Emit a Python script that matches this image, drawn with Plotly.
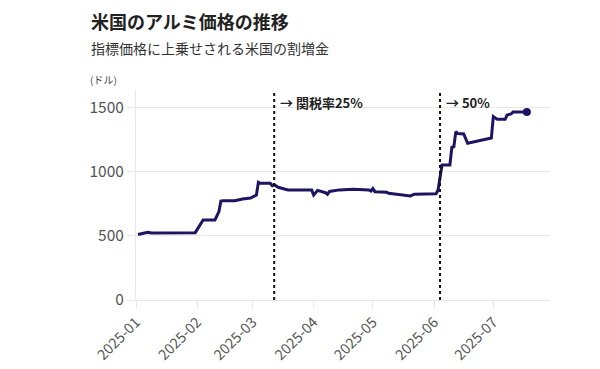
import plotly.graph_objects as go

dates = [
    "2025-01-02", "2025-01-07", "2025-01-09", "2025-01-31", "2025-02-04", "2025-02-10",
    "2025-02-12", "2025-02-13", "2025-02-14", "2025-02-20", "2025-02-24", "2025-02-28",
    "2025-03-03", "2025-03-04", "2025-03-05", "2025-03-10", "2025-03-11", "2025-03-12",
    "2025-03-14", "2025-03-17", "2025-03-19", "2025-03-31", "2025-04-01", "2025-04-03",
    "2025-04-07", "2025-04-08", "2025-04-09", "2025-04-14", "2025-04-21", "2025-04-29",
    "2025-04-30", "2025-05-01", "2025-05-02", "2025-05-08", "2025-05-09", "2025-05-14",
    "2025-05-20", "2025-05-22", "2025-06-02", "2025-06-03", "2025-06-04", "2025-06-05",
    "2025-06-09", "2025-06-10", "2025-06-11", "2025-06-12", "2025-06-13", "2025-06-16",
    "2025-06-18", "2025-06-30", "2025-07-01", "2025-07-03", "2025-07-07", "2025-07-08",
    "2025-07-10", "2025-07-11", "2025-07-18",
]
prices = [
    512, 528, 524, 526, 625, 625,
    690, 773, 775, 775, 789, 796,
    820, 919, 911, 911, 893, 900,
    880, 865, 860, 860, 820, 856,
    838, 826, 848, 860, 865, 860,
    851, 870, 846, 841, 833, 824,
    813, 826, 830, 859, 950, 1055,
    1055, 1193, 1196, 1315, 1300, 1297,
    1224, 1265, 1432, 1411, 1411, 1445,
    1453, 1469, 1469,
]

tariff_dates = ["2025-03-12", "2025-06-04"]
tariff_labels = ["→ 関税率25%", "→ 50%"]

y_ticks = [0, 500, 1000, 1500]
x_ticks = ["2025-01-01", "2025-02-01", "2025-03-01", "2025-04-01",
           "2025-05-01", "2025-06-01", "2025-07-01"]
x_tick_labels = ["2025-01", "2025-02", "2025-03", "2025-04", "2025-05", "2025-06", "2025-07"]

FONT = "Noto Sans CJK JP"
LINE_COLOR = "#1c1562"

fig = go.Figure()
fig.add_trace(go.Scatter(
    x=dates, y=prices, mode="lines",
    line=dict(color=LINE_COLOR, width=3),
    hoverinfo="x+y", showlegend=False,
))
fig.add_trace(go.Scatter(
    x=[dates[-1]], y=[prices[-1]], mode="markers",
    marker=dict(color=LINE_COLOR, size=8),
    showlegend=False,
))

for d, lab in zip(tariff_dates, tariff_labels):
    fig.add_shape(type="line", xref="x", yref="paper", x0=d, x1=d, y0=0, y1=1,
                  line=dict(color="#111111", width=2, dash="dot"))
    fig.add_annotation(x=d, y=1540, xref="x", yref="y", text=lab, showarrow=False,
                       xanchor="left", yanchor="middle", xshift=4,
                       font=dict(family=FONT, size=13, color="#222222", weight="bold"))

fig.add_annotation(xref="paper", yref="paper", x=-0.113, y=1.33, text="米国のアルミ価格の推移",
                   showarrow=False, xanchor="left", yanchor="middle",
                   font=dict(family=FONT, size=18, color="#222222", weight="bold"))
fig.add_annotation(xref="paper", yref="paper", x=-0.113, y=1.2, text="指標価格に上乗せされる米国の割増金",
                   showarrow=False, xanchor="left", yanchor="middle",
                   font=dict(family=FONT, size=14, color="#333333"))
fig.add_annotation(xref="paper", yref="paper", x=-0.115, y=1.05, text="(ドル)",
                   showarrow=False, xanchor="left", yanchor="middle",
                   font=dict(family=FONT, size=10, color="#444444"))

# page body has an 8px margin, so the figure is 8px smaller and margins shifted
fig.update_layout(
    width=592, height=361,
    margin=dict(l=128, r=50, t=82, b=69),
    plot_bgcolor="white", paper_bgcolor="white",
    font=dict(family=FONT, color="#555555"),
    xaxis=dict(
        type="date", range=["2025-01-01", "2025-07-29 17:00"], automargin=False,
        tickvals=x_ticks, ticktext=x_tick_labels, tickangle=-45,
        showgrid=False, ticks="outside", ticklen=7, tickcolor="#e6e6e6",
        showline=False, zeroline=False,
        tickfont=dict(family=FONT, size=14.5, color="#555555"),
    ),
    yaxis=dict(
        range=[0, 1640], tickvals=y_ticks, automargin=False,
        showgrid=True, gridcolor="#e8e8e8", gridwidth=1,
        zeroline=True, zerolinecolor="#e6e6e6", zerolinewidth=1,
        showline=True, linecolor="#e8e8e8", linewidth=1,
        ticks="outside", ticklen=8, tickcolor="#e8e8e8",
        tickfont=dict(family=FONT, size=15.5, color="#555555"),
    ),
)

fig.write_html("out.html")
